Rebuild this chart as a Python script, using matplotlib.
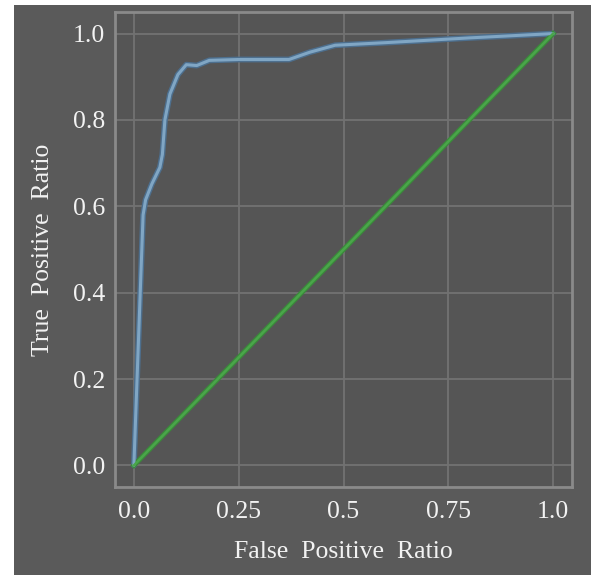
import matplotlib
matplotlib.use("Agg")
import matplotlib.pyplot as plt
from matplotlib.patches import Rectangle

# ROC data
fpr = [0.0, 0.022, 0.028, 0.043, 0.062, 0.068, 0.074, 0.086, 0.105, 0.125,
       0.15, 0.18, 0.25, 0.37, 0.42, 0.48, 0.6, 0.8, 1.0]
tpr = [0.0, 0.58, 0.615, 0.652, 0.69, 0.72, 0.80, 0.86, 0.905, 0.928,
       0.926, 0.938, 0.94, 0.94, 0.957, 0.973, 0.979, 0.99, 1.0]
diag_x = [0.0, 1.0]
diag_y = [0.0, 1.0]

xticks = [0.0, 0.25, 0.5, 0.75, 1.0]
xtick_labels = ["0.0", "0.25", "0.5", "0.75", "1.0"]
yticks = [0.0, 0.2, 0.4, 0.6, 0.8, 1.0]
ytick_labels = ["0.0", "0.2", "0.4", "0.6", "0.8", "1.0"]

plt.rcParams['font.family'] = ['Liberation Serif', 'DejaVu Serif']

W, H = 591, 575
fig = plt.figure(figsize=(W / 100, H / 100), dpi=100, facecolor='white')
# gray panel (reference has a thin white margin at top and left)
fig.patches.append(Rectangle((14 / W, 0), 1 - 14 / W, 1 - 5 / H,
                             transform=fig.transFigure, facecolor='#5a5a5a',
                             edgecolor='none', zorder=-10))

ax = fig.add_axes([115 / W, 88 / H, (572 - 115) / W, (487 - 12) / H])
ax.set_zorder(5)
ax.set_facecolor('#555555')

ax.plot(fpr, tpr, color='#4d6f8e', lw=4.2, solid_capstyle='round', zorder=3)
ax.plot(fpr, tpr, color='#80a6c4', lw=2.2, solid_capstyle='round', zorder=4)
ax.plot(diag_x, diag_y, color='#3a8a3a', lw=3.6, zorder=3)
ax.plot(diag_x, diag_y, color='#4aa64a', lw=1.8, zorder=4)

ax.set_xlim(-0.045, 1.045)
ax.set_ylim(-0.05, 1.05)
ax.set_xticks(xticks)
ax.set_xticklabels(xtick_labels)
ax.set_yticks(yticks)
ax.set_yticklabels(ytick_labels)

ax.grid(True, color='#727272', lw=1.3, zorder=1)
ax.set_axisbelow(True)
for s in ax.spines.values():
    s.set_color('#8a8a8a')
    s.set_linewidth(2)

ax.tick_params(length=0, labelsize=18.5, colors='#f2f2f2')
ax.tick_params(axis='x', pad=10)
ax.tick_params(axis='y', pad=7)

ax.set_xlabel("False  Positive  Ratio", fontsize=18.5, color='#f2f2f2', labelpad=13)
ax.set_ylabel("True  Positive  Ratio", fontsize=18.5, color='#f2f2f2', labelpad=14)

fig.savefig("out.png", dpi=100, facecolor=fig.get_facecolor())
